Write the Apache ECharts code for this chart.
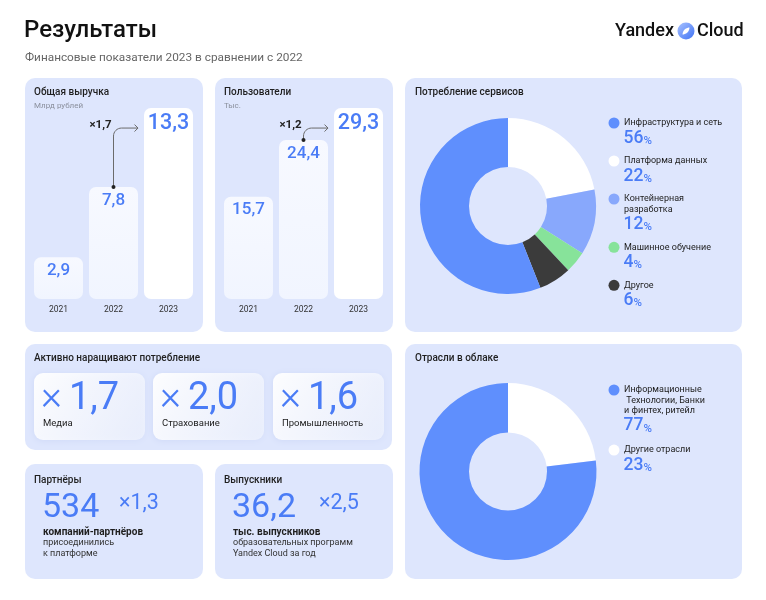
<!DOCTYPE html>
<html><head><meta charset="utf-8">
<script src="https://cdn.jsdelivr.net/npm/echarts@6/dist/echarts.min.js"></script>
<style>html,body{margin:0;padding:0;background:#fff}#c{width:766px;height:600px}</style>
</head><body><div id="c"></div>
<script>
// ---------- data ----------
const years = ['2021', '2022', '2023'];
const revenue = [2.9, 7.8, 13.3];
const users = [15.7, 24.4, 29.3];
const revenueGrowth = '×1,7';
const usersGrowth = '×1,2';

const serviceNames = ['Платформа данных', 'Контейнерная разработка', 'Машинное обучение', 'Другое', 'Инфраструктура и сеть'];
const serviceLegendLabels = ['Платформа данных', 'Контейнерная\nразработка', 'Машинное обучение', 'Другое', 'Инфраструктура и сеть'];
const serviceValues = [22, 12, 4, 6, 56];
const serviceColors = ['#ffffff', '#88a8fc', '#87e39a', '#3b3b3b', '#5f8ffd'];
const serviceLegendOrder = [4, 0, 1, 2, 3];

const industryNames = ['Другие отрасли', 'Информационные Технологии, Банки и финтех, ритейл'];
const industryLegendLabels = ['Другие отрасли', 'Информационные\n Технологии, Банки\nи финтех, ритейл'];
const industryValues = [23, 77];
const industryColors = ['#ffffff', '#5f8ffd'];
const industryLegendOrder = [1, 0];

const growthValues = ['1,7', '2,0', '1,6'];
const growthLabels = ['Медиа', 'Страхование', 'Промышленность'];

const partners = '534';
const partnersGrowth = '×1,3';
const partnersLines = ['компаний-партнёров', 'присоединились', 'к платформе'];
const graduates = '36,2';
const graduatesGrowth = '×2,5';
const graduatesLines = ['тыс. выпускников', 'образовательных программ', 'Yandex Cloud за год'];

// ---------- styles ----------
const FONT = 'Roboto, "Noto Sans", sans-serif';
const PANEL = '#dee6fd';
const BLUE = '#4a7cf6';
const DARK = '#1f1f1f';
const fmt = v => v.toFixed(1).replace('.', ',');

const chart = echarts.init(document.getElementById('c'), null, {renderer: 'canvas'});

function barData(arr) {
  return arr.map((v, i) => ({
    value: v,
    itemStyle: i === arr.length - 1 ? {color: '#ffffff'} : {
      color: {type: 'linear', x: 0, y: 0, x2: 0, y2: 1, colorStops: [
        {offset: 0, color: '#f7f9ff'}, {offset: 1, color: '#f1f5ff'}]}
    },
    label: {fontSize: i === arr.length - 1 ? 21.5 : 17}
  }));
}
function barSeries(idx, arr) {
  return {
    type: 'bar', xAxisIndex: idx, yAxisIndex: idx, barWidth: 49,
    data: barData(arr),
    itemStyle: {borderRadius: 7},
    label: {show: true, position: 'insideTop', distance: 5, color: BLUE, fontFamily: FONT, fontWeight: 500,
      formatter: p => fmt(p.value)},
    emphasis: {disabled: true}, silent: true
  };
}
function xAx(idx) {
  return {type: 'category', gridIndex: idx, data: years, axisLine: {show: false}, axisTick: {show: false},
    axisLabel: {color: '#333', fontSize: 8.5, fontFamily: FONT, margin: 6}};
}
function yAx(idx, max) {
  return {type: 'value', gridIndex: idx, min: 0, max: max, show: false, splitLine: {show: false}};
}

chart.setOption({
  animation: false,
  backgroundColor: '#ffffff',
  grid: [
    {left: 31, width: 165, top: 98, height: 201},
    {left: 221, width: 165, top: 103.5, height: 195.5}
  ],
  xAxis: [xAx(0), xAx(1)],
  yAxis: [yAx(0, 14), yAx(1, 30)],
  series: [
    barSeries(0, revenue),
    barSeries(1, users),
    {type: 'pie', center: [508, 206], radius: [39, 88], startAngle: 90, clockwise: true,
      label: {show: false}, labelLine: {show: false}, silent: true, emphasis: {disabled: true},
      data: serviceNames.map((n, i) => ({name: n, value: serviceValues[i], itemStyle: {color: serviceColors[i]}}))},
    {type: 'pie', center: [508, 471.5], radius: [39, 88.5], startAngle: 90, clockwise: true,
      label: {show: false}, labelLine: {show: false}, silent: true, emphasis: {disabled: true},
      data: industryNames.map((n, i) => ({name: n, value: industryValues[i], itemStyle: {color: industryColors[i]}}))}
  ]
});

// ---------- decoration ----------
const g = [];
function rect(x, y, w, h, r, fill, extra) {
  g.push({type: 'rect', z: 0, silent: true, shape: {x, y, width: w, height: h, r}, style: Object.assign({fill}, extra || {})});
}
function text(x, y, t, size, opts) {
  opts = opts || {};
  g.push({type: 'text', z: 20, silent: true, x, y, style: {
    text: t, fill: opts.fill || DARK, fontSize: size, fontFamily: FONT, fontWeight: opts.weight || 'normal',
    verticalAlign: 'middle', align: opts.align || 'left'}});
}
function richText(x, y, num, numSize, pctSize) {
  g.push({type: 'text', z: 20, silent: true, x, y, style: {
    text: '{n|' + num + '}{p|%}', verticalAlign: 'middle', fontFamily: FONT,
    rich: {
      n: {fontSize: numSize, fill: BLUE, fontFamily: FONT, fontWeight: 500, lineHeight: numSize, verticalAlign: 'bottom'},
      p: {fontSize: pctSize, fill: BLUE, fontFamily: FONT, fontWeight: 500, lineHeight: pctSize + 1, verticalAlign: 'bottom'}
    }}});
}

// header
text(24, 31, 'Результаты', 24, {weight: 500, fill: '#111'});
text(25, 58, 'Финансовые показатели 2023 в сравнении с 2022', 11.8, {fill: '#666'});
text(615, 31, 'Yandex', 18, {weight: 500, fill: '#111'});
g.push({type: 'circle', z: 20, silent: true, shape: {cx: 686, cy: 31, r: 8.5}, style: {
  fill: {type: 'linear', x: 0, y: 0, x2: 1, y2: 1, colorStops: [{offset: 0, color: '#a9c2ff'}, {offset: 1, color: '#3f73f5'}]}}});
(function () {
  const cx = 686, cy = 31, R = 7, d = 5, L = Math.sqrt(R * R - d * d);
  const ax = [0.7071, -0.7071], nx = [0.7071, 0.7071];
  const up = [], dn = [];
  for (let k = 0; k <= 16; k++) {
    const t = -L + 2 * L * k / 16;
    const w = Math.max(0, Math.sqrt(R * R - t * t) - d);
    up.push([cx + t * ax[0] + w * nx[0], cy + t * ax[1] + w * nx[1]]);
    dn.push([cx + t * ax[0] - w * nx[0], cy + t * ax[1] - w * nx[1]]);
  }
  g.push({type: 'polygon', z: 21, silent: true, shape: {points: up.concat(dn.reverse())}, style: {fill: '#ffffff'}});
})();
text(697, 31, 'Cloud', 18, {weight: 500, fill: '#111'});

// panels
rect(25, 78, 178, 254, 10, PANEL);
rect(215, 78, 178, 254, 10, PANEL);
rect(405, 78, 337, 254, 10, PANEL);
rect(25, 344, 367, 106, 10, PANEL);
rect(25, 464, 178, 115, 10, PANEL);
rect(215, 464, 178, 115, 10, PANEL);
rect(405, 344, 337, 235, 10, PANEL);

// panel titles
const TS = 10;
text(34, 92, 'Общая выручка', TS, {weight: 500});
text(34, 106, 'Млрд рублей', 8, {fill: '#8a8f9c'});
text(224, 92, 'Пользователи', TS, {weight: 500});
text(224, 106, 'Тыс.', 8, {fill: '#8a8f9c'});
text(415, 92, 'Потребление сервисов', TS, {weight: 500});
text(34, 358, 'Активно наращивают потребление', TS, {weight: 500});
text(34, 480, 'Партнёры', TS, {weight: 500});
text(224, 480, 'Выпускники', TS, {weight: 500});
text(415, 358, 'Отрасли в облаке', TS, {weight: 500});

// growth cards
const cardX = [34, 153, 273];
cardX.forEach((cx, i) => {
  rect(cx, 373, 111, 67, 9, {type: 'linear', x: 0, y: 0, x2: 1, y2: 1, colorStops: [
    {offset: 0, color: 'rgba(255,255,255,0.95)'}, {offset: 1, color: 'rgba(255,255,255,0.45)'}]},
    {shadowBlur: 6, shadowColor: 'rgba(70,100,190,0.12)', shadowOffsetY: 1});
  text(cx + 7, 399, '×', 40, {fill: BLUE, weight: 300});
  text(cx + 35, 399, growthValues[i], 38, {fill: BLUE, weight: 'normal'});
  text(cx + 9, 424, growthLabels[i], 9.5, {fill: '#222'});
});

// partners / graduates
function statBlock(x, big, growth, lines) {
  text(x, 508, big, 34, {fill: BLUE, weight: 'normal'});
  text(x + (big.length > 3 ? 87 : 77), 504, growth, 21.5, {fill: BLUE, weight: 'normal'});
  text(x + 1, 532, lines[0], 10, {weight: 700});
  text(x + 1, 543, lines[1], 9, {fill: '#333'});
  text(x + 1, 553.5, lines[2], 9, {fill: '#333'});
}
statBlock(42, partners, partnersGrowth, partnersLines);
statBlock(232, graduates, graduatesGrowth, graduatesLines);

// legends
function legend(startY, order, labels, values, colors, gapAfter) {
  let y = startY;
  order.forEach(i => {
    g.push({type: 'circle', z: 20, silent: true, shape: {cx: 614, cy: y, r: 5.5}, style: {fill: colors[i]}});
    const ls = labels[i].split('\n');
    ls.forEach((l, k) => text(624, y + k * 10.3, l, 9, {fill: '#222'}));
    const py = y + (ls.length - 1) * 10.3 + 15.5;
    richText(623.5, py, String(values[i]), 17.5, 11.5);
    y = py + gapAfter;
  });
}
legend(123, serviceLegendOrder, serviceLegendLabels, serviceValues, serviceColors, 22.5);
legend(390, industryLegendOrder, industryLegendLabels, industryValues, industryColors, 24);

// arrows between 2022 and 2023 bars
function arrow(gridIndex, arr, label) {
  const p2 = chart.convertToPixel({gridIndex}, [years[1], arr[1]]);
  const p3 = chart.convertToPixel({gridIndex}, [years[2], arr[2]]);
  const x = p2[0];
  const yH = p3[1] + 20;
  const xe = p3[0] - 24.5 - 6;
  const r = 8;
  const pts = [[x, p2[1]], [x, yH + r]];
  for (let k = 1; k <= 8; k++) {
    const a = Math.PI - (Math.PI / 2) * k / 8;
    pts.push([x + r + r * Math.cos(a), yH + r - r * Math.sin(a)]);
  }
  pts.push([xe, yH]);
  g.push({type: 'polyline', z: 20, silent: true, shape: {points: pts}, style: {stroke: '#6b6b6b', lineWidth: 1, fill: null}});
  g.push({type: 'polyline', z: 20, silent: true, shape: {points: [[xe - 3.5, yH - 3.5], [xe, yH], [xe - 3.5, yH + 3.5]]},
    style: {stroke: '#6b6b6b', lineWidth: 1, fill: null}});
  g.push({type: 'circle', z: 21, silent: true, shape: {cx: x, cy: p2[1], r: 2}, style: {fill: '#222'}});
  text(x - 24, yH - 3, label, 11.5, {weight: 700, fill: '#222'});
}
arrow(0, revenue, revenueGrowth);
arrow(1, users, usersGrowth);

chart.setOption({graphic: {elements: g}});
</script></body></html>
